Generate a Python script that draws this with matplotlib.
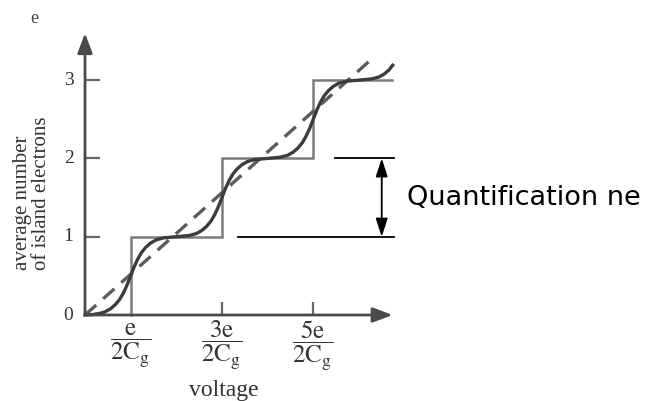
import matplotlib.pyplot as plt

plt.rcParams["mathtext.fontset"] = "stix"

# Values (x in units of e/C_g, y = average number of electrons)
step_v = [0.5, 0.5, 1.5, 1.5, 2.5, 2.5, 3.36]
step_n = [0.0, 1.0, 1.0, 2.0, 2.0, 3.0, 3.0]

smooth_v = [0.0, 0.08, 0.16, 0.22, 0.28, 0.33, 0.38, 0.42, 0.46, 0.5, 0.54, 0.58,
            0.62, 0.67, 0.72, 0.78, 0.86, 1.0, 1.14, 1.22, 1.28, 1.33, 1.38, 1.42,
            1.46, 1.5, 1.54, 1.58, 1.62, 1.67, 1.72, 1.78, 1.86, 2.0, 2.14, 2.22,
            2.28, 2.33, 2.38, 2.42, 2.46, 2.5, 2.54, 2.58, 2.62, 2.67, 2.72, 2.78,
            2.86, 3.0, 3.14, 3.22, 3.28, 3.33, 3.37]
smooth_n = [0.0, 0.005, 0.02, 0.04, 0.08, 0.13, 0.2, 0.28, 0.38, 0.5, 0.62, 0.72,
            0.8, 0.87, 0.92, 0.96, 0.985, 1.0, 1.015, 1.04, 1.08, 1.13, 1.2, 1.28,
            1.38, 1.5, 1.62, 1.72, 1.8, 1.87, 1.92, 1.96, 1.985, 2.0, 2.015, 2.04,
            2.08, 2.13, 2.2, 2.28, 2.38, 2.5, 2.62, 2.72, 2.8, 2.87, 2.92, 2.96,
            2.985, 3.0, 3.015, 3.04, 3.08, 3.13, 3.19]

linear_v = [0.0, 3.17]
linear_n = [0.0, 3.3]

y_ticks = [0, 1, 2, 3]
x_tick_pos = [0.5, 1.5, 2.5]
x_tick_labels = [r"$\dfrac{\mathrm{e}}{\mathrm{2C_g}}$",
                 r"$\dfrac{\mathrm{3e}}{\mathrm{2C_g}}$",
                 r"$\dfrac{\mathrm{5e}}{\mathrm{2C_g}}$"]

gap_low, gap_high = 1, 2
note = "Quantification ne"

# pixel -> data mapping of the original: x0 = 85 px, 91.3 px per unit; y0 = 315 px, 78.3 px per unit
fig = plt.figure(figsize=(6.57, 4.01), dpi=100)
ax = fig.add_axes([0, 0, 1, 1])
ax.set_xlim(-85 / 91.3, (657 - 85) / 91.3)
ax.set_ylim((315 - 401) / 78.3, 315 / 78.3)
ax.axis("off")

axis_col = "#4a4a4a"
serif = "Liberation Serif"

# axes with arrow heads
ax.annotate("", xy=(0, 3.6), xytext=(0, 0),
            arrowprops=dict(arrowstyle="-|>,head_length=1.2,head_width=0.45",
                            lw=2, color=axis_col, shrinkA=0, shrinkB=0))
ax.annotate("", xy=(3.37, 0), xytext=(0, 0),
            arrowprops=dict(arrowstyle="-|>,head_length=1.2,head_width=0.45",
                            lw=2, color=axis_col, shrinkA=0, shrinkB=0))

# tick marks
for t in y_ticks[1:]:
    ax.plot([0, 0.16], [t, t], color="#666666", lw=1.6, solid_capstyle="butt")
for p in x_tick_pos[1:]:
    ax.plot([p, p], [0, 0.16], color="#666666", lw=1.6, solid_capstyle="butt")

# curves
ax.plot(step_v, step_n, color="#7c7c7c", lw=1.8, solid_joinstyle="miter")
ax.plot(linear_v, linear_n, color="#5c5c5c", lw=2.4, dashes=(4.5, 2.8))
ax.plot(smooth_v, smooth_n, color="#3c3c3c", lw=2.4)

# tick labels
for t in y_ticks:
    ax.text(-0.18, t, str(t), ha="center", va="center", fontsize=14,
            family=serif, color="#333333")
for p, lab in zip(x_tick_pos, x_tick_labels):
    ax.text(p, -0.39, lab, ha="center", va="center", fontsize=18, color="#333333")

ax.text(1.52, -0.96, "voltage", ha="center", va="center", fontsize=17,
        family=serif, color="#333333")
ax.text(-0.58, 0.57, "average number\nof island electrons", rotation=90,
        ha="center", va="bottom", multialignment="left", fontsize=15,
        family=serif, color="#333333", linespacing=1.0)
ax.text(-0.55, 3.79, "e", ha="center", va="center", fontsize=13,
        family=serif, color="#444444")

# quantification annotation
ax.plot([2.74, 3.38], [gap_high, gap_high], color="black", lw=1.3)
ax.plot([1.68, 3.38], [gap_low, gap_low], color="black", lw=1.3)
ax.annotate("", xy=(3.25, gap_high), xytext=(3.25, gap_low),
            arrowprops=dict(arrowstyle="<|-|>,head_length=1.1,head_width=0.36",
                            lw=1.3, color="black", shrinkA=0, shrinkB=0))
ax.text(3.53, 1.5, note, ha="left", va="center", fontsize=19.5,
        family="DejaVu Sans", color="black")

fig.savefig("out.png", dpi=100)
